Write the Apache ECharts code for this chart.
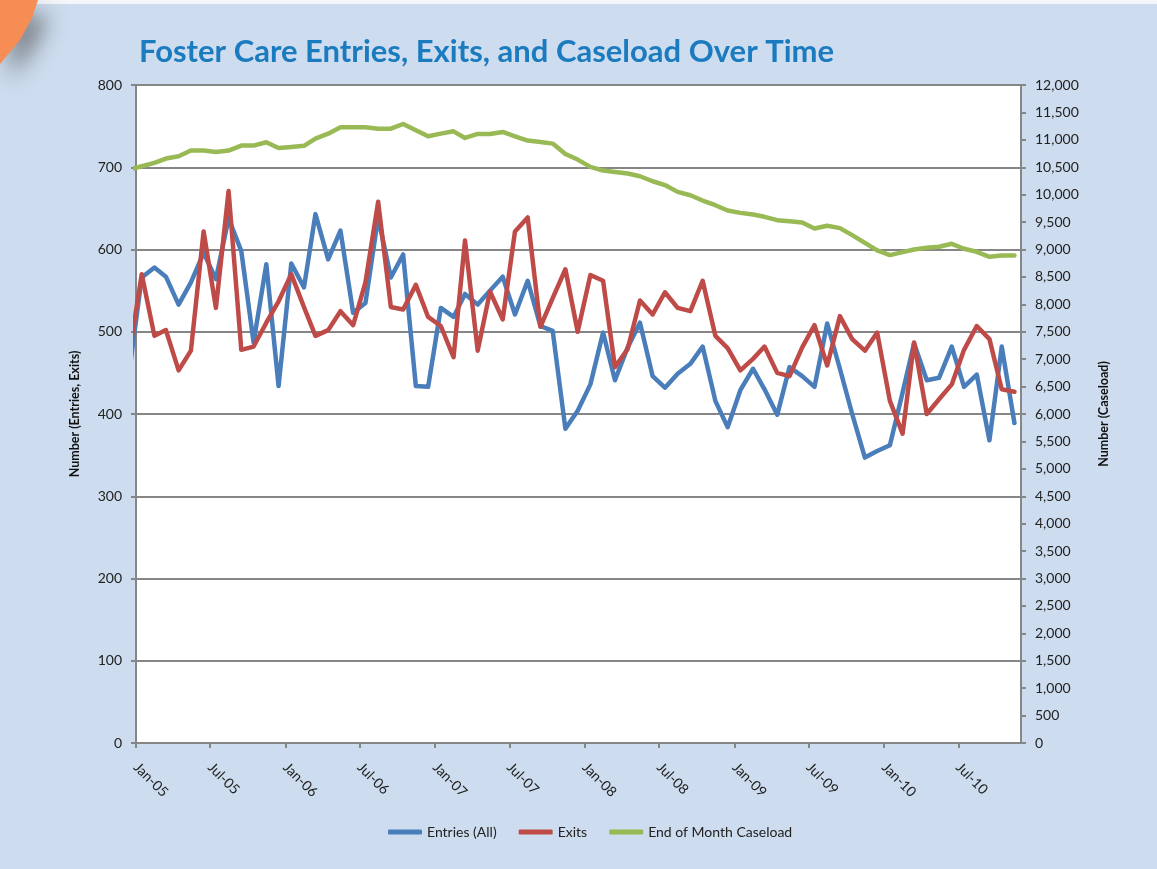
<!DOCTYPE html>
<html>
<head>
<meta charset="utf-8">
<script src="https://cdn.jsdelivr.net/npm/echarts@6/dist/echarts.min.js"></script>
<style>
  html, body { margin: 0; padding: 0; background: #cddcee; }
  #chart { width: 1157px; height: 869px; }
</style>
</head>
<body>
<div id="chart"></div>
<script>
  // monthly observations, plotted mid-month (first one is clipped by the axis)
  var months = [
    '2004-12',
    '2005-01','2005-02','2005-03','2005-04','2005-05','2005-06','2005-07','2005-08','2005-09','2005-10','2005-11','2005-12',
    '2006-01','2006-02','2006-03','2006-04','2006-05','2006-06','2006-07','2006-08','2006-09','2006-10','2006-11','2006-12',
    '2007-01','2007-02','2007-03','2007-04','2007-05','2007-06','2007-07','2007-08','2007-09','2007-10','2007-11','2007-12',
    '2008-01','2008-02','2008-03','2008-04','2008-05','2008-06','2008-07','2008-08','2008-09','2008-10','2008-11','2008-12',
    '2009-01','2009-02','2009-03','2009-04','2009-05','2009-06','2009-07','2009-08','2009-09','2009-10','2009-11','2009-12',
    '2010-01','2010-02','2010-03','2010-04','2010-05','2010-06','2010-07','2010-08','2010-09','2010-10','2010-11'
  ]
  var entries = [
    449,
    566, 578, 567, 533, 560, 596, 564, 638, 598, 487, 582, 434,
    583, 554, 643, 588, 623, 523, 535, 639, 566, 594, 434, 433,
    529, 518, 546, 533, 550, 567, 521, 562, 507, 501, 382, 404,
    436, 499, 441, 481, 511, 446, 432, 449, 461, 482, 416, 384,
    429, 455, 430, 399, 457, 446, 433, 510, 455, 400, 347, 355,
    362, 426, 486, 441, 444, 482, 433, 448, 368, 482, 389
  ]
  var exits = [
    471,
    570, 495, 502, 453, 477, 622, 529, 671, 478, 482, 511, 537,
    570, 530, 495, 502, 525, 508, 560, 658, 530, 527, 557, 518,
    507, 469, 611, 477, 549, 515, 622, 639, 506, 541, 576, 500,
    569, 562, 457, 479, 538, 521, 548, 529, 525, 562, 495, 480,
    453, 467, 482, 450, 446, 481, 508, 459, 519, 491, 477, 499,
    416, 376, 487, 400, 418, 436, 478, 507, 491, 430, 427
  ]
  var caseload = [
    10460,
    10518, 10579, 10658, 10700, 10804, 10804, 10780, 10804, 10895, 10895, 10955, 10852,
    10870, 10890, 11022, 11113, 11228, 11228, 11228, 11204, 11204, 11289, 11174, 11065,
    11113, 11155, 11034, 11107, 11107, 11143, 11065, 10986, 10961, 10931, 10743, 10640,
    10506, 10439, 10415, 10385, 10336, 10245, 10175, 10051, 9990, 9893, 9808, 9711,
    9668, 9638, 9596, 9535, 9517, 9492, 9383, 9432, 9390, 9262, 9122, 8983,
    8898, 8952, 9001, 9031, 9049, 9104, 9013, 8958, 8867, 8891, 8891
  ]
  var tickMonths = ['2005-01','2005-07','2006-01','2006-07','2007-01','2007-07','2008-01','2008-07','2009-01','2009-07','2010-01','2010-07']
  var tickLabels = ['Jan-05','Jul-05','Jan-06','Jul-06','Jan-07','Jul-07','Jan-08','Jul-08','Jan-09','Jul-09','Jan-10','Jul-10']

  var font = 'Lato, "Open Sans", sans-serif'
  var gray = '#868686'

  function pad(n) { return n < 10 ? '0' + n : '' + n }
  function day(s) { return Date.parse(s + 'T00:00:00Z') }
  function toPoints(values) {
    return months.map(function (m, i) { return [day(m + '-15'), values[i]] })
  }
  var tickValues = tickMonths.map(function (m) { return day(m + '-01') })

  var chart = echarts.init(document.getElementById('chart'))
  chart.setOption({
    backgroundColor: '#cddcee',
    animation: false,
    title: {
      text: 'Foster Care Entries, Exits, and Caseload Over Time',
      left: 139,
      top: 36,
      padding: 0,
      textStyle: { fontFamily: font, fontWeight: 'bold', fontSize: 31, color: '#1b7bbf' }
    },
    legend: {
      left: 388,
      top: 825,
      padding: 0,
      icon: 'roundRect',
      itemWidth: 34,
      itemHeight: 5,
      itemGap: 22,
      textStyle: { fontFamily: font, fontSize: 14, color: '#222' },
      data: ['Entries (All)', 'Exits', 'End of Month Caseload']
    },
    graphic: [
      {
        type: 'rect',
        shape: { x: 0, y: 0, width: 1157, height: 4 },
        style: { fill: '#f4f6fa' }
      },
      {
        type: 'polygon',
        shape: { points: [[0, 0], [38, 0], [32, 18], [20, 40], [0, 64]] },
        style: { fill: '#f58d55', shadowBlur: 22, shadowColor: 'rgba(70,70,70,0.6)', shadowOffsetX: 10, shadowOffsetY: 14 }
      }
    ],
    grid: {
      left: 136, top: 85, right: 136, bottom: 126,
      show: true, backgroundColor: '#fff', borderWidth: 0
    },
    xAxis: {
      type: 'value',
      min: day('2005-01-01'),
      max: day('2010-12-01'),
      axisLine: { lineStyle: { color: gray, width: 2 } },
      axisTick: { customValues: tickValues, length: 5, lineStyle: { color: gray, width: 2 } },
      axisLabel: {
        customValues: tickValues,
        rotate: -45,
        margin: 22,
        fontFamily: font, fontSize: 14, color: '#222',
        formatter: function (value) {
          var d = new Date(value)
          var key = d.getUTCFullYear() + '-' + pad(d.getUTCMonth() + 1)
          return tickLabels[tickMonths.indexOf(key)]
        }
      },
      splitLine: { show: false }
    },
    yAxis: [
      {
        type: 'value',
        min: 0, max: 800, interval: 100,
        name: 'Number (Entries, Exits)',
        nameLocation: 'middle',
        nameRotate: 90,
        nameGap: 55,
        nameTextStyle: { fontFamily: font, fontWeight: 'bold', fontSize: 12.5, color: '#111' },
        axisLine: { show: true, lineStyle: { color: gray, width: 2 } },
        axisTick: { show: true, length: 5, lineStyle: { color: gray, width: 2 } },
        axisLabel: { margin: 14, fontFamily: font, fontSize: 14, color: '#222' },
        splitLine: { lineStyle: { color: gray, width: 2 } }
      },
      {
        type: 'value',
        min: 0, max: 12000, interval: 500,
        name: 'Number (Caseload)',
        nameLocation: 'middle',
        nameRotate: 90,
        nameGap: 76,
        nameTextStyle: { fontFamily: font, fontWeight: 'bold', fontSize: 12.5, color: '#111' },
        axisLine: { show: true, lineStyle: { color: gray, width: 2 } },
        axisTick: { show: true, length: 5, lineStyle: { color: gray, width: 2 } },
        axisLabel: {
          margin: 14, fontFamily: font, fontSize: 14, color: '#222',
          formatter: function (v) { return v.toLocaleString('en-US') }
        },
        splitLine: { show: false }
      }
    ],
    series: [
      {
        name: 'Entries (All)',
        type: 'line',
        yAxisIndex: 0,
        showSymbol: false,
        color: '#4a7ebb',
        lineStyle: { width: 4.5, cap: 'round', join: 'round' },
        data: toPoints(entries)
      },
      {
        name: 'Exits',
        type: 'line',
        yAxisIndex: 0,
        showSymbol: false,
        color: '#be4b48',
        lineStyle: { width: 4.5, cap: 'round', join: 'round' },
        data: toPoints(exits)
      },
      {
        name: 'End of Month Caseload',
        type: 'line',
        yAxisIndex: 1,
        showSymbol: false,
        color: '#98b954',
        lineStyle: { width: 4.5, cap: 'round', join: 'round' },
        data: toPoints(caseload)
      }
    ]
  })
</script>
</body>
</html>
